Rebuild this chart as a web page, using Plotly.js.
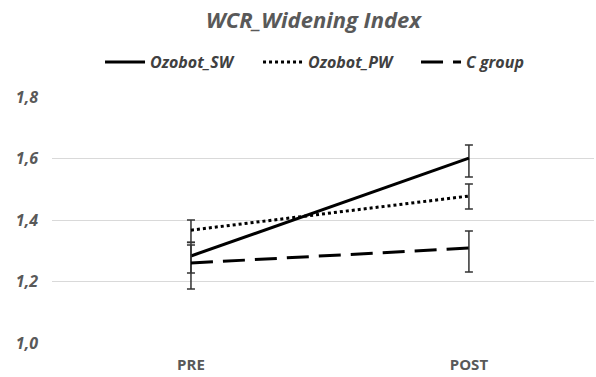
<!DOCTYPE html>
<html>
<head>
<meta charset="utf-8">
<script src="https://cdn.plot.ly/plotly-3.0.1.min.js"></script>
<style>html,body{margin:0;padding:0;background:#fff;}#chart{width:596px;height:377px;}</style>
</head>
<body>
<div id="chart"></div>
<script>
var categories = ["PRE", "POST"];
var swValues = [1.283, 1.601];
var swPlus = [0.045, 0.043];
var swMinus = [0.055, 0.061];
var pwValues = [1.367, 1.478];
var pwPlus = [0.033, 0.039];
var pwMinus = [0.040, 0.042];
var cValues = [1.260, 1.309];
var cPlus = [0.059, 0.055];
var cMinus = [0.084, 0.078];
var seriesNames = ["Ozobot_SW", "Ozobot_PW", "C group"];
var yTicks = [1.0, 1.2, 1.4, 1.6, 1.8];

function err(p, m) {
  return {type: "data", symmetric: false, array: p, arrayminus: m,
          color: "#333333", thickness: 1.5, width: 4};
}
var traces = [
  {x: categories, y: swValues, name: seriesNames[0], mode: "lines", type: "scatter",
   line: {color: "#000", width: 3, dash: "solid"}, error_y: err(swPlus, swMinus)},
  {x: categories, y: pwValues, name: seriesNames[1], mode: "lines", type: "scatter",
   line: {color: "#000", width: 3, dash: "dot"}, error_y: err(pwPlus, pwMinus)},
  {x: categories, y: cValues, name: seriesNames[2], mode: "lines", type: "scatter",
   line: {color: "#000", width: 3, dash: "22px,10px"}, error_y: err(cPlus, cMinus)}
];
var layout = {
  width: 596, height: 377,
  margin: {l: 52, r: 2, t: 97, b: 34},
  paper_bgcolor: "#fff", plot_bgcolor: "#fff",
  separators: ",.",
  showlegend: true,
  title: {text: "<b><i>WCR_Widening Index</i></b>", x: 0.526, xanchor: "center", y: 0.947, yanchor: "middle",
          font: {family: "Open Sans", size: 22, color: "#595959"}},
  legend: {orientation: "h", x: 0.0886, xanchor: "left", y: 1.142, yref: "paper", yanchor: "middle",
           font: {family: "Open Sans", size: 16, color: "#404040", weight: "bold", style: "italic"},
           itemwidth: 40, tracegroupgap: 0, entrywidth: 103, entrywidthmode: "pixels"},
  xaxis: {type: "category", range: [-0.5, 1.45], showgrid: false, zeroline: false, showline: false,
          ticks: "", ticklabelstandoff: 11,
          tickfont: {family: "Open Sans", size: 15, color: "#595959", weight: "bold"}},
  yaxis: {range: [1.0, 1.8], tickvals: yTicks, tickformat: ".1f", showgrid: true, gridcolor: "#d9d9d9",
          gridwidth: 1, zeroline: false, showline: false, ticks: "", ticklabelstandoff: 13,
          tickfont: {family: "Open Sans", size: 16, color: "#595959", weight: "bold", style: "italic"}}
};
Plotly.newPlot("chart", traces, layout, {displayModeBar: false, staticPlot: true});
</script>
</body>
</html>
